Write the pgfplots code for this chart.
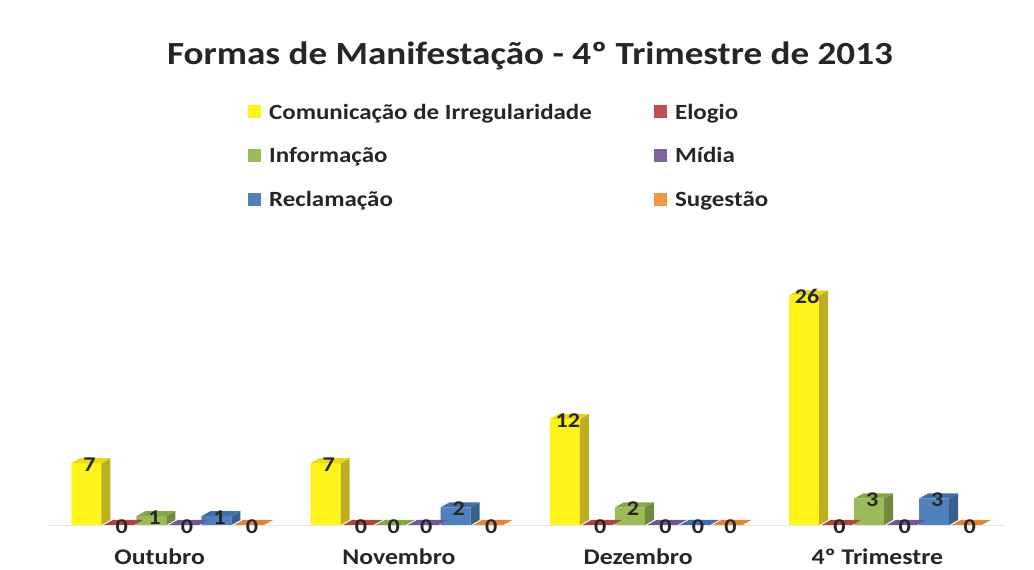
\documentclass[border=0pt]{standalone}
\usepackage{pgfplots}
\pgfplotsset{compat=1.18}
\usepackage{pgfplotstable}
\usepackage{fontspec}
\setmainfont{Carlito}[FakeStretch=1.15]

\definecolor{cY}{HTML}{FFF31A}
\definecolor{cYs}{HTML}{BDAE22}
\definecolor{cYt}{HTML}{E6DA14}
\definecolor{cR}{HTML}{C0504D}
\definecolor{cRs}{HTML}{8E3A38}
\definecolor{cRt}{HTML}{A9463F}
\definecolor{cG}{HTML}{9BBB59}
\definecolor{cGs}{HTML}{6F8A3E}
\definecolor{cGt}{HTML}{86A64A}
\definecolor{cP}{HTML}{8064A2}
\definecolor{cPs}{HTML}{5C4878}
\definecolor{cPt}{HTML}{705890}
\definecolor{cB}{HTML}{4F81BD}
\definecolor{cBs}{HTML}{36618F}
\definecolor{cBt}{HTML}{4170A8}
\definecolor{cO}{HTML}{F79646}
\definecolor{cOs}{HTML}{C07030}
\definecolor{cOt}{HTML}{E08638}
\definecolor{txt}{HTML}{262626}

% bar height in pt = transformed meta (0..1000 for 0..30) * 0.265
\pgfdeclareplotmark{side3d}{%
  \pgfmathsetmacro\barh{\pgfplotspointmetatransformed*0.265}%
  \pgfpathmoveto{\pgfpoint{15pt}{0pt}}%
  \pgfpathlineto{\pgfpoint{24pt}{5pt}}%
  \pgfpathlineto{\pgfpoint{24pt}{5pt-\barh pt}}%
  \pgfpathlineto{\pgfpoint{15pt}{-\barh pt}}%
  \pgfpathclose\pgfusepathqfill}
\pgfdeclareplotmark{top3d}{%
  \pgfpathmoveto{\pgfpoint{-15pt}{0pt}}%
  \pgfpathlineto{\pgfpoint{15pt}{0pt}}%
  \pgfpathlineto{\pgfpoint{24pt}{5pt}}%
  \pgfpathlineto{\pgfpoint{-6pt}{5pt}}%
  \pgfpathclose\pgfusepathqfill}

\pgfplotstableread{
x y
-0.3396 7
0.6604 7
1.6604 12
2.6604 26
}\tC
\pgfplotstableread{
x y
-0.2038 0
0.7962 0
1.7962 0
2.7962 0
}\tE
\pgfplotstableread{
x y
-0.0679 1
0.9321 0
1.9321 2
2.9321 3
}\tI
\pgfplotstableread{
x y
0.0679 0
1.0679 0
2.0679 0
3.0679 0
}\tM
\pgfplotstableread{
x y
0.2038 1
1.2038 2
2.2038 0
3.2038 3
}\tR
\pgfplotstableread{
x y
0.3396 0
1.3396 0
2.3396 0
3.3396 0
}\tS

\pgfplotsset{
  front/.style={ybar, bar width=30pt, bar shift=0pt, fill=#1, draw=none},
  sideface/.style={scatter, only marks, mark=side3d, point meta=y,
    scatter/use mapped color={draw=none,fill=#1}, forget plot},
  topface/.style={scatter, only marks, mark=top3d, point meta=y,
    scatter/use mapped color={draw=none,fill=#1}, forget plot},
  vlabels/.style={draw=none, mark=none, forget plot, point meta=y,
    nodes near coords,
    every node near coord/.append style={font=\fontsize{21}{21}\selectfont\bfseries, text=txt, xshift=3pt, yshift=-12pt}},
}

\begin{document}
\begin{tikzpicture}
\path[use as bounding box] (0,0) rectangle (1034pt,570pt);
\begin{axis}[
  at={(48pt,45pt)}, anchor=south west,
  scale only axis, width=957pt, height=265pt,
  xmin=-0.5, xmax=3.5, ymin=0, ymax=30,
  point meta min=0, point meta max=30,
  enlargelimits=false, clip=false,
  axis lines*=left,
  axis line style={-},
  x axis line style={draw=black!10},
  y axis line style={draw=none},
  ytick=\empty,
  xtick={0,1,2,3},
  xticklabels={Outubro,Novembro,Dezembro,4º Trimestre},
  major tick length=0pt,
  xticklabel style={font=\fontsize{22.4}{22.4}\selectfont\bfseries, text=txt, anchor=base, inner sep=0pt, yshift=-40pt, xshift=-8pt},
  /pgf/number format/assume math mode=true,
  legend columns=2,
  legend cell align=left,
  legend image code/.code={\fill[#1,draw=none] (0pt,-6pt) rectangle (13pt,7pt); \path (0pt,0pt) -- (19pt,0pt);},
  legend style={at={(0.2058,1.605)}, anchor=north west, draw=none, fill=none,
    font=\fontsize{21.7}{21.7}\selectfont\bfseries, text=txt, row sep=23pt},
]
\addplot[front=cY] table[x=x,y=y]{\tC};
\addlegendentry{\makebox[383pt][l]{Comunicação de Irregularidade}}
\addplot[sideface=cYs] table[x=x,y=y]{\tC};
\addplot[topface=cYt] table[x=x,y=y]{\tC};
\addplot[vlabels] table[x=x,y=y]{\tC};

\addplot[front=cR] table[x=x,y=y]{\tE};
\addlegendentry{Elogio}
\addplot[sideface=cRs] table[x=x,y=y]{\tE};
\addplot[topface=cRt] table[x=x,y=y]{\tE};
\addplot[vlabels] table[x=x,y=y]{\tE};

\addplot[front=cG] table[x=x,y=y]{\tI};
\addlegendentry{\makebox[383pt][l]{Informação}}
\addplot[sideface=cGs] table[x=x,y=y]{\tI};
\addplot[topface=cGt] table[x=x,y=y]{\tI};
\addplot[vlabels] table[x=x,y=y]{\tI};

\addplot[front=cP] table[x=x,y=y]{\tM};
\addlegendentry{Mídia}
\addplot[sideface=cPs] table[x=x,y=y]{\tM};
\addplot[topface=cPt] table[x=x,y=y]{\tM};
\addplot[vlabels] table[x=x,y=y]{\tM};

\addplot[front=cB] table[x=x,y=y]{\tR};
\addlegendentry{\makebox[383pt][l]{Reclamação}}
\addplot[sideface=cBs] table[x=x,y=y]{\tR};
\addplot[topface=cBt] table[x=x,y=y]{\tR};
\addplot[vlabels] table[x=x,y=y]{\tR};

\addplot[front=cO] table[x=x,y=y]{\tS};
\addlegendentry{Sugestão}
\addplot[sideface=cOs] table[x=x,y=y]{\tS};
\addplot[topface=cOt] table[x=x,y=y]{\tS};
\addplot[vlabels] table[x=x,y=y]{\tS};
\end{axis}
\node[anchor=base, font=\fontsize{32.3}{32.3}\selectfont\bfseries, text=txt] at (530pt,505pt) {Formas de Manifestação - 4º Trimestre de 2013};
\end{tikzpicture}
\end{document}
